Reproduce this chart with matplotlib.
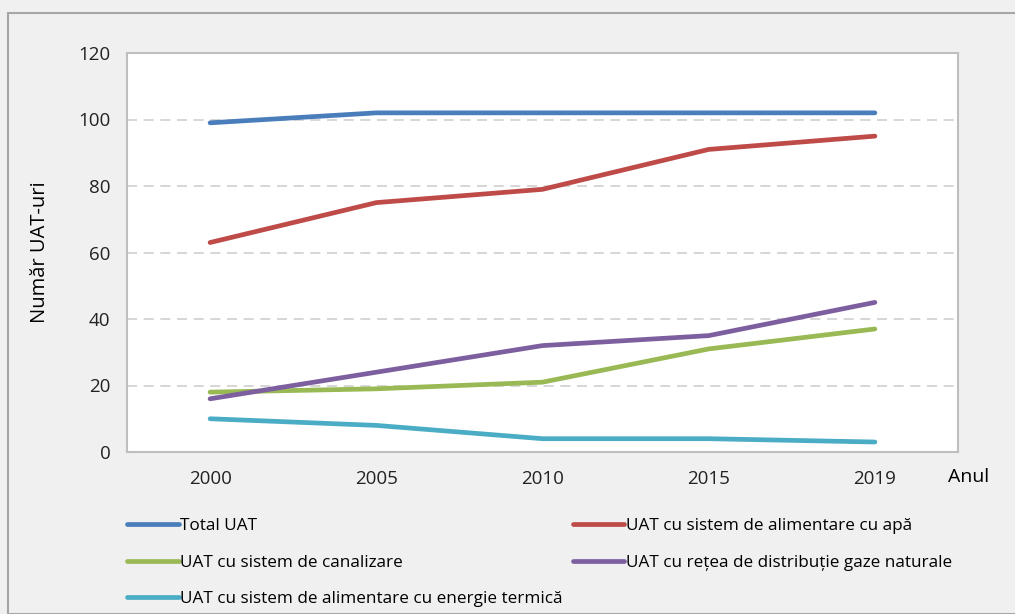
import matplotlib.pyplot as plt
from matplotlib.patches import Rectangle

plt.rcParams['font.family'] = ['Open Sans', 'DejaVu Sans']

years = ["2000", "2005", "2010", "2015", "2019"]
total_uat = [99, 102, 102, 102, 102]
apa = [63, 75, 79, 91, 95]
canalizare = [18, 19, 21, 31, 37]
gaze = [16, 24, 32, 35, 45]
termica = [10, 8, 4, 4, 3]

series = [
    ("Total UAT", total_uat, "#4a7ebb"),
    ("UAT cu sistem de alimentare cu apă", apa, "#be4b48"),
    ("UAT cu sistem de canalizare", canalizare, "#98b954"),
    ("UAT cu rețea de distribuție gaze naturale", gaze, "#7d5fa0"),
    ("UAT cu sistem de alimentare cu energie termică", termica, "#4bacc6"),
]

fig = plt.figure(figsize=(10.15, 6.14), dpi=100, facecolor="#f0f0f0")
fig.patches.append(Rectangle((8 / 1015, 0), 1, 1 - 13 / 614, transform=fig.transFigure,
                             fill=False, edgecolor="#a6a6a6", linewidth=1.5))
ax = fig.add_axes([127 / 1015, 1 - 452 / 614, (958 - 127) / 1015, (452 - 53) / 614])
ax.set_facecolor("white")

x = list(range(len(years)))
lines = []
for label, vals, color in series:
    ln, = ax.plot(x, vals, color=color, linewidth=3.4, solid_capstyle="round", label=label)
    lines.append(ln)

ax.set_xlim(-0.5, len(years) - 0.5)
ax.set_ylim(0, 120)
ax.set_yticks(range(0, 121, 20))
ax.set_xticks(x)
ax.set_xticklabels(years)
ax.tick_params(length=0, labelsize=13.5, colors="#222222")
ax.tick_params(axis="x", pad=13)
ax.tick_params(axis="y", pad=12)
for y in range(20, 120, 20):
    ax.axhline(y, color="#d0d0d0", linestyle=(0, (6, 4)), linewidth=1.2, zorder=0)
for s in ax.spines.values():
    s.set_color("#bfbfbf")
    s.set_linewidth(1.5)

ax.set_ylabel("Număr UAT-uri", fontsize=14.5, labelpad=20)
fig.text(948 / 1015, 1 - 477 / 614, "Anul", fontsize=14, va="center", ha="left")

order = [0, 2, 4, 1, 3]
fig.legend([lines[i] for i in order], [series[i][0] for i in order], ncol=2,
           loc="upper left", bbox_to_anchor=(112 / 1015, 1 - 503 / 614),
           frameon=False, fontsize=12.3, handlelength=3.0, handletextpad=0.1,
           columnspacing=0.6, labelspacing=1.2)

fig.savefig("out.png", dpi=100, facecolor=fig.get_facecolor())
